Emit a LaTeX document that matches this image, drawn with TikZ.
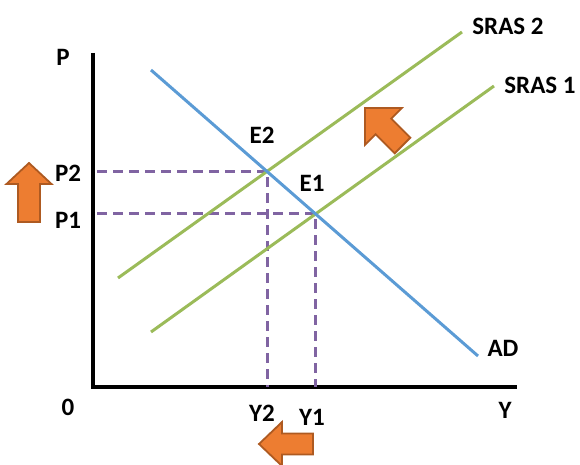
\documentclass[tikz,border=0pt]{standalone}
\usepackage{fontspec}
\setmainfont{Carlito}
\usetikzlibrary{intersections}
\definecolor{adblue}{HTML}{5B9BD5}
\definecolor{srasgreen}{HTML}{9BBB59}
\definecolor{dashpurple}{HTML}{8064A2}
\definecolor{arroworange}{HTML}{ED7D31}
\definecolor{arrowedge}{HTML}{AE5A21}
\begin{document}
\begin{tikzpicture}[x=1pt,y=-1pt,
  lbl/.style={font=\fontsize{25}{28}\selectfont\bfseries, inner sep=0pt},
  axisline/.style={line width=3.5pt, black, line join=miter},
  adline/.style={adblue, line width=3pt},
  srasline/.style={srasgreen, line width=3pt},
  guide/.style={dashpurple, line width=3pt, dash pattern=on 10pt off 6pt},
  blockarrow/.style={fill=arroworange, draw=arrowedge, line width=1.8pt, line join=miter}]
\useasboundingbox (0,0) rectangle (580,465);

% axes
\coordinate (O) at (93,387);
\coordinate (ytop) at (93,53);
\coordinate (xend) at (517,387);
\coordinate (pstart) at (97,387);
\draw[axisline] (ytop) -- (O) -- (xend);

% curves
\coordinate (ad0) at (151,70);
\coordinate (ad1) at (478,356);
\coordinate (sb0) at (118,278);
\coordinate (sb1) at (462,32);
\coordinate (sa0) at (151,332);
\coordinate (sa1) at (494,86);
\path[name path=ad] (ad0) -- (ad1);
\path[name path=sras2] (sb0) -- (sb1);
\path[name path=sras1] (sa0) -- (sa1);
\path[name intersections={of=ad and sras2, by=E2}];
\path[name intersections={of=ad and sras1, by=E1}];

% dashed guides
\draw[guide] (E2 -| pstart) -- (E2) -- (E2 |- O);
\draw[guide] (E1 -| pstart) -- (E1) -- (E1 |- O);

\draw[srasline] (sb0) -- (sb1);
\draw[srasline] (sa0) -- (sa1);
\draw[adline] (ad0) -- (ad1);

% labels
\node[lbl] (lP) at (63,57) {P};
\node[lbl] (l0) at (68,407) {0};
\node[lbl] (lY) at (505,410) {Y};
\node[lbl] (lP2) at (68,173) {P2};
\node[lbl] (lP1) at (68,220) {P1};
\node[lbl] (lY2) at (262,413) {Y2};
\node[lbl] (lY1) at (312,417) {Y1};
\node[lbl] (lE2) at (262,135) {E2};
\node[lbl] (lE1) at (312,183) {E1};
\node[lbl] (lS2) at (508,26) {SRAS 2};
\node[lbl] (lS1) at (540,85) {SRAS 1};
\node[lbl] (lAD) at (503,348) {AD};

% block arrows
\draw[blockarrow] (29,163) -- (51.5,184) -- (40,184) -- (40,222) -- (18,222) -- (18,184) -- (6.5,184) -- cycle;
\draw[blockarrow] (259,444) -- (282,422) -- (282,433.5) -- (313,433.5) -- (313,454.5) -- (282,454.5) -- (282,466) -- cycle;
\draw[blockarrow] (365,108) -- (401.8,108) -- (391.2,118.6) -- (410.3,137.7) -- (394.7,153.3) -- (375.6,134.2) -- (365,144.8) -- cycle;
\end{tikzpicture}
\end{document}
